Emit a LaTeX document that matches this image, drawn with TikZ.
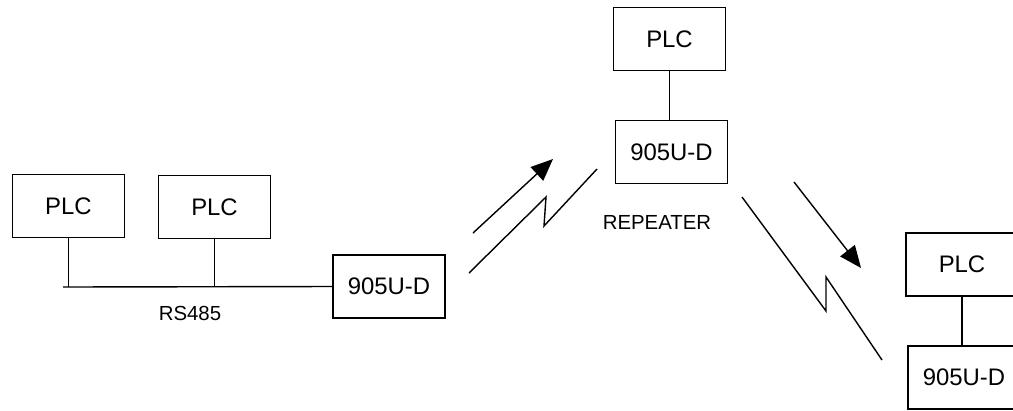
\documentclass[tikz,border=0pt]{standalone}
\usepackage{fontspec}
\setmainfont{Liberation Sans}
\usetikzlibrary{positioning,arrows.meta}
\tikzset{
  unidad/.style={draw, line width=1pt, minimum width=2.8cm, minimum height=1.58cm, inner sep=0pt, font=\fontsize{17}{20}\selectfont},
  etiqueta/.style={inner sep=0pt, font=\fontsize{14.5}{17}\selectfont},
  enlace/.style={line width=1pt},
  senal/.style={line width=1pt, -{Triangle[length=5.5mm,width=4.6mm]}},
}
\begin{document}
\begin{tikzpicture}[x=0.025cm, y=-0.025cm]
  \clip (0,0) rectangle (1013,410);
  % estacion maestra
  \node[unidad] (plcuno) at (68.5,206) {PLC};
  \node[unidad] (plcdos) at (214.5,207) {PLC};
  \node[unidad] (radiouno) at (389,286.5) {905U-D};
  \coordinate (bus) at (63,287);
  \draw[enlace] (bus) -- (radiouno.west);
  \draw[enlace] (plcuno.south) -- (plcuno.south |- bus);
  \draw[enlace] (plcdos.south) -- (plcdos.south |- bus);
  \node[etiqueta] (rs) at (190,313) {RS485};
  % repetidor
  \node[unidad] (plctres) at (669.5,39) {PLC};
  \node[unidad] (repetidor) at (671.5,152) {905U-D};
  \draw[enlace] (plctres.south) -- (plctres.south |- repetidor.north);
  \node[etiqueta] (rep) at (657,222) {REPEATER};
  % estacion remota
  \node[unidad] (plccuatro) at (962,264.5) {PLC};
  \node[unidad] (radiodos) at (964,377.5) {905U-D};
  \draw[enlace] (plccuatro.south) -- (plccuatro.south |- radiodos.north);
  % enlaces de radio
  \coordinate (fa1) at (473,233);
  \coordinate (fa2) at (553,159);
  \coordinate (za1) at (469,273);
  \coordinate (za2) at (546,197);
  \coordinate (za3) at (544,226);
  \coordinate (za4) at (597,169);
  \draw[senal] (fa1) -- (fa2);
  \draw[enlace] (za1) -- (za2) -- (za3) -- (za4);
  \coordinate (fb1) at (794,182);
  \coordinate (fb2) at (861,268);
  \coordinate (zb1) at (742,197);
  \coordinate (zb2) at (826,311);
  \coordinate (zb3) at (826,277);
  \coordinate (zb4) at (882,360);
  \draw[senal] (fb1) -- (fb2);
  \draw[enlace] (zb1) -- (zb2) -- (zb3) -- (zb4);
\end{tikzpicture}
\end{document}
